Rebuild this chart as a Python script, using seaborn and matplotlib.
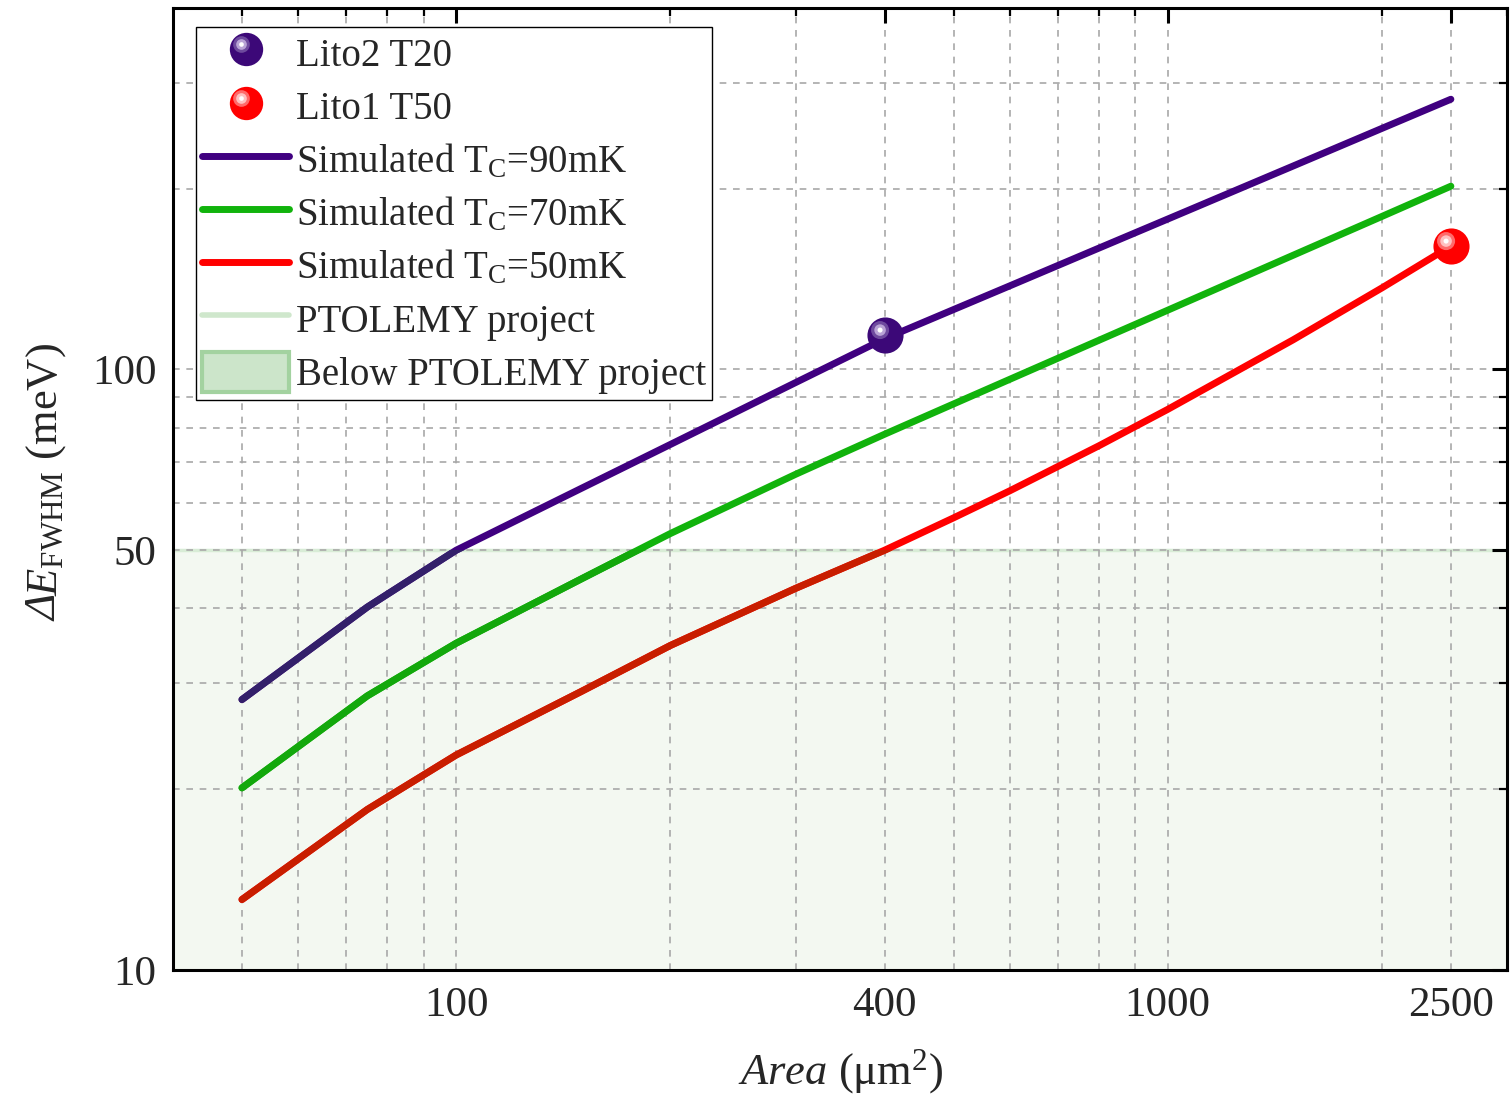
import numpy as np
import pandas as pd
import matplotlib
matplotlib.use("Agg")
import matplotlib.pyplot as plt
from matplotlib.path import Path
from matplotlib.lines import Line2D
from matplotlib.patches import Patch
from matplotlib.legend_handler import HandlerTuple
from matplotlib.ticker import FixedLocator, FixedFormatter, NullFormatter, NullLocator
import seaborn as sns

# ---- data -------------------------------------------------------------
area = [50, 75, 100, 150, 200, 300, 400, 500, 600, 800, 1000, 1500, 2000, 2500]
sim_90mk = [28.2, 40.2, 50, 63.4, 75.0, 95.1, 112.5, 125.8, 137.8, 159.2, 178, 218.1, 252, 281.8]
sim_70mk = [20.1, 28.6, 35, 44.8, 53.3, 66.9, 78, 87.6, 96.3, 111.8, 125.5, 154.9, 179.8, 201.9]
sim_50mk = [13.1, 18.5, 22.8, 29.1, 34.7, 43.2, 50, 56.6, 62.8, 74.6, 85.8, 112, 136.7, 160.5]

lito2_area = [400]
lito2_de = [114]
lito1_area = [2500]
lito1_de = [160.5]

ptolemy_limit = 50

series_labels = [r"Simulated T$_\mathrm{C}$=90mK",
                 r"Simulated T$_\mathrm{C}$=70mK",
                 r"Simulated T$_\mathrm{C}$=50mK"]
x_ticks = [100, 400, 1000, 2500]
x_minor = [50, 60, 70, 80, 90, 200, 300, 500, 600, 700, 800, 900, 2000, 3000]
y_ticks = [10, 50, 100]
y_minor = [20, 30, 40, 60, 70, 80, 90, 200, 300]
x_range = (40, 3000)
y_range = (10, 400)

# ---- style ------------------------------------------------------------
sns.set_style("white")
plt.rcParams["font.family"] = ["Liberation Serif", "DejaVu Serif"]
plt.rcParams["mathtext.fontset"] = "custom"
plt.rcParams["mathtext.rm"] = "Liberation Serif"
plt.rcParams["mathtext.it"] = "Liberation Serif:italic"
plt.rcParams["mathtext.bf"] = "Liberation Serif:bold"

line_colors = ["#400080", "#11B30C", "#FF0000"]
shade_colors = ["#33206A", "#13A80C", "#C81E00"]

df = pd.DataFrame({
    "area": area * 3,
    "dE": sim_90mk + sim_70mk + sim_50mk,
    "series": [series_labels[0]] * len(area) + [series_labels[1]] * len(area)
              + [series_labels[2]] * len(area),
})

fig = plt.figure(figsize=(15.11, 10.96), dpi=100)
ax = fig.add_axes([0.1145, 0.115, 0.883, 0.8778])
ax.set_xscale("log")
ax.set_yscale("log")

# grid
ax.set_axisbelow(True)
ax.grid(True, which="both", color="#A8A8A8", linestyle=(0, (4, 4)), linewidth=1.2)

# region below the PTOLEMY target
ax.axhspan(y_range[0], ptolemy_limit, color="#F3F8F1", lw=0, zorder=0.3)
ax.axhline(ptolemy_limit, color="#D8ECD6", lw=2.5, zorder=0.4)

# simulated curves
sns.lineplot(data=df, x="area", y="dE", hue="series", hue_order=series_labels,
             palette=line_colors, linewidth=5, legend=False, ax=ax,
             estimator=None, sort=False, zorder=2, solid_capstyle="round")
ax.set_xlim(*x_range)
ax.set_ylim(*y_range)

# darker tint of the curves inside the shaded band (drawn in a band-sized overlay axes)
frac = np.log10(ptolemy_limit / y_range[0]) / np.log10(y_range[1] / y_range[0])
bax = ax.inset_axes([0, 0, 1, frac])
bax.set_xscale("log")
bax.set_yscale("log")
sns.lineplot(data=df, x="area", y="dE", hue="series", hue_order=series_labels,
             palette=shade_colors, linewidth=5, legend=False, ax=bax,
             estimator=None, sort=False, solid_capstyle="round")
bax.set_xlim(*x_range)
bax.set_ylim(y_range[0], ptolemy_limit)
bax.set_xlabel("")
bax.set_ylabel("")
for axis in (bax.xaxis, bax.yaxis):
    axis.set_major_locator(NullLocator())
    axis.set_minor_locator(NullLocator())
bax.set_axis_off()
bax.patch.set_visible(False)
bax.set_zorder(2.1)


# glossy sphere markers
def glint(cx, cy, r):
    circ = Path.circle((cx, cy), r)
    verts = np.vstack([circ.vertices, [[1, 1], [-1, -1]]])
    codes = np.concatenate([circ.codes, [Path.MOVETO, Path.MOVETO]])
    return Path(verts, codes)


glow_outer = glint(-0.30, 0.30, 0.50)
glow_inner = glint(-0.30, 0.30, 0.32)
glow_core = glint(-0.30, 0.30, 0.14)


def sphere_layers(base, g1, g2):
    return [("o", base), (glow_outer, g1), (glow_inner, g2), (glow_core, "white")]


def sphere(xs, ys, base, g1, g2, ms):
    for k, (mk, col) in enumerate(sphere_layers(base, g1, g2)):
        ax.plot(xs, ys, ls="none", marker=mk, ms=ms, mfc=col, mec="none", zorder=3 + 0.1 * k)


purple_ball = ("#3C0878", "#6E4A9E", "#B9A3D6")
red_ball = ("#FF0000", "#FF6A6A", "#FFC0C0")
sphere(lito2_area, lito2_de, *purple_ball, 26)
sphere(lito1_area, lito1_de, *red_ball, 26)

# axes, ticks
ax.xaxis.set_major_locator(FixedLocator(x_ticks))
ax.xaxis.set_major_formatter(FixedFormatter([str(v) for v in x_ticks]))
ax.xaxis.set_minor_locator(FixedLocator(x_minor))
ax.xaxis.set_minor_formatter(NullFormatter())
ax.yaxis.set_major_locator(FixedLocator(y_ticks))
ax.yaxis.set_major_formatter(FixedFormatter([str(v) for v in y_ticks]))
ax.yaxis.set_minor_locator(FixedLocator(y_minor))
ax.yaxis.set_minor_formatter(NullFormatter())

ax.tick_params(which="both", direction="in", top=True, right=True, color="black")
ax.tick_params(which="major", length=11, width=2.2, labelsize=31, pad=12)
ax.tick_params(which="minor", length=6, width=1.6)
for s in ax.spines.values():
    s.set_linewidth(2.2)
    s.set_color("black")
    s.set_zorder(4)

ax.set_xlabel(r"$\mathit{Area}$ (μm$^{2}$)", fontsize=32, labelpad=16)
ax.set_ylabel(r"$\mathit{E}_{\mathrm{FWHM}}$ (meV)", fontsize=32)
ax.yaxis.set_label_coords(-0.079, 0.52)
ax.annotate("Δ", xy=(0.5, 0), xycoords=ax.yaxis.label, rotation=90,
            ha="center", va="top", fontsize=32, fontstyle="italic",
            xytext=(0, 1), textcoords="offset points")


# legend
def sphere_handle(base, g1, g2, ms=24):
    return tuple(Line2D([], [], ls="none", marker=mk, ms=ms, mfc=col, mec="none")
                 for mk, col in sphere_layers(base, g1, g2))


handles = [
    sphere_handle(*purple_ball),
    sphere_handle(*red_ball),
    Line2D([], [], color=line_colors[0], lw=5, solid_capstyle="round"),
    Line2D([], [], color=line_colors[1], lw=5, solid_capstyle="round"),
    Line2D([], [], color=line_colors[2], lw=5, solid_capstyle="round"),
    Line2D([], [], color="#CFE7CC", lw=4, solid_capstyle="round"),
    Patch(facecolor="#CCE5CA", edgecolor="#A3D2A0", linewidth=3),
]
labels = ["Lito2 T20", "Lito1 T50"] + series_labels + ["PTOLEMY project", "Below PTOLEMY project"]
leg = ax.legend(handles, labels, handler_map={tuple: HandlerTuple(ndivide=1)},
                loc="upper left", bbox_to_anchor=(0.0172, 0.980), borderaxespad=0,
                fontsize=28, handlelength=2.25, handletextpad=0.18, handleheight=1.2,
                labelspacing=0.285, borderpad=0.15, frameon=True, fancybox=False,
                framealpha=1, edgecolor="black")
leg.get_frame().set_linewidth(1.0)
leg.set_zorder(5)

fig.savefig("out.png", dpi=100)
